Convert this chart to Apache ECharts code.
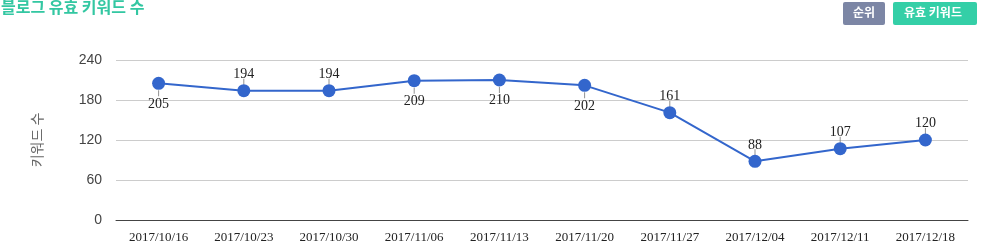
<!DOCTYPE html>
<html>
<head>
<meta charset="utf-8">
<script src="https://cdn.jsdelivr.net/npm/echarts@6/dist/echarts.min.js"></script>
<style>
  html, body { margin: 0; padding: 0; background: #fff; }
  #chart { width: 996px; height: 249px; }
</style>
</head>
<body>
<div id="chart"></div>
<script>
const weeks = ['2017/10/16', '2017/10/23', '2017/10/30', '2017/11/06', '2017/11/13',
  '2017/11/20', '2017/11/27', '2017/12/04', '2017/12/11', '2017/12/18'];
const keywordCounts = [205, 194, 194, 209, 210, 202, 161, 88, 107, 120];
// which labels sit under the point
const labelBelow = [true, false, false, true, true, true, false, false, false, false];
const yTicks = [0, 60, 120, 180, 240];

const chart = echarts.init(document.getElementById('chart'));

const points = keywordCounts.map(function(v, i) {
  return {
    value: v,
    label: { position: labelBelow[i] ? 'bottom' : 'top' }
  };
});

// short vertical tick between point and its label
const leaders = keywordCounts.map(function(v, i) {
  return {
    value: v,
    symbolOffset: [0, labelBelow[i] ? 10 : -9]
  };
});

chart.setOption({
  animation: false,
  title: {
    text: '블로그 유효 키워드 수',
    left: -4,
    top: -6,
    textStyle: { color: '#33c7a2', fontSize: 16, fontWeight: 'bold', fontFamily: 'Noto Sans CJK KR' }
  },
  graphic: [
    {
      type: 'rect', left: 843, top: 2, shape: { width: 42, height: 23, r: 2 },
      style: { fill: '#7c86a5' }
    },
    {
      type: 'text', left: 853, top: 6,
      style: { text: '순위', fill: '#fff', font: 'bold 12px "Noto Sans CJK KR"' }
    },
    {
      type: 'rect', left: 893, top: 2, shape: { width: 84, height: 23, r: 2 },
      style: { fill: '#34cfa7' }
    },
    {
      type: 'text', left: 904, top: 6,
      style: { text: '유효 키워드', fill: '#fff', font: 'bold 12px "Noto Sans CJK KR"' }
    }
  ],
  grid: { left: 116, right: 28, top: 60, bottom: 29 },
  xAxis: {
    type: 'category',
    data: weeks,
    axisTick: { show: false },
    axisLine: { lineStyle: { color: '#444', width: 1 } },
    axisLabel: { color: '#222', fontFamily: 'Liberation Serif', fontSize: 13, margin: 11 }
  },
  yAxis: {
    type: 'value',
    min: yTicks[0],
    max: yTicks[yTicks.length - 1],
    interval: 60,
    name: '키워드 수',
    nameLocation: 'middle',
    nameGap: 72,
    nameTextStyle: { color: '#666', fontSize: 14, fontFamily: 'Noto Sans CJK KR' },
    axisLine: { show: false },
    axisTick: { show: false },
    axisLabel: { color: '#444', fontSize: 14, fontFamily: 'Liberation Sans', margin: 14 },
    splitLine: { lineStyle: { color: '#cccccc' } }
  },
  series: [
    {
      type: 'scatter',
      data: leaders,
      symbol: 'rect',
      symbolSize: [1, 6],
      itemStyle: { color: '#777' },
      silent: true,
      z: 1
    },
    {
      type: 'line',
      data: points,
      symbol: 'circle',
      symbolSize: 13,
      lineStyle: { color: '#3366cc', width: 2 },
      itemStyle: { color: '#3366cc' },
      z: 3,
      label: {
        show: true,
        distance: 5,
        offset: [0, 2],
        color: '#222',
        fontFamily: 'Liberation Serif',
        fontSize: 14
      }
    }
  ]
});
</script>
</body>
</html>
